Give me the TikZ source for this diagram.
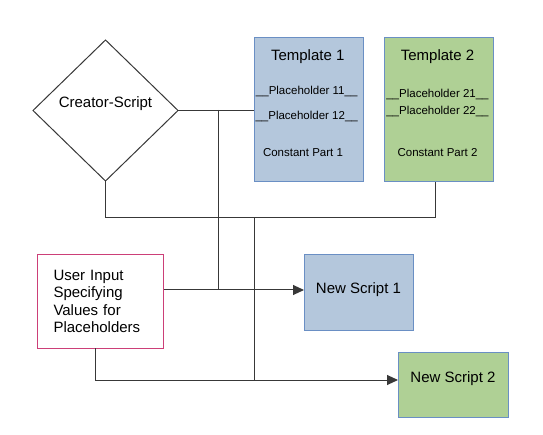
\documentclass[tikz,border=0pt]{standalone}
\usepackage{fontspec}
\setmainfont{Liberation Sans}
\usetikzlibrary{shapes.geometric,arrows.meta,calc}
\definecolor{bluefill}{HTML}{B4C7DC}
\definecolor{blueedge}{HTML}{6A8FC4}
\definecolor{greenfill}{HTML}{AFD095}
\definecolor{pinkedge}{HTML}{CC3F78}
\definecolor{linec}{HTML}{383838}
\begin{document}
\begin{tikzpicture}[x=1pt,y=-1pt,
  big/.style={font=\fontsize{15}{17.5}\selectfont},
  small/.style={font=\fontsize{11.5}{13}\selectfont},
  tbox/.style={draw=blueedge,line width=1pt,inner sep=0pt,anchor=north west},
  wire/.style={draw=linec,line width=1pt},
  arr/.style={wire,-{Triangle[length=11pt,width=10pt]}}]
\useasboundingbox (0,0) rectangle (543,435);
% diamond
\node[draw=linec,line width=1pt,diamond,minimum width=145pt,minimum height=141pt,inner sep=0pt,outer sep=0pt] (cs) at (105.5,110.5) {};
\node[big] (cst) at (105.5,104) {Creator-Script};
% templates
\node[tbox,fill=bluefill,minimum width=109pt,minimum height=144pt] (t1) at (254,37) {};
\node[tbox,fill=greenfill,minimum width=109pt,minimum height=144pt] (t2) at (384,37) {};
\node[big] (t1a) at (307.7,56.7) {Template 1};
\node[small] (t1b) at (306.7,91.7) {\_\_Placeholder 11\_\_};
\node[small] (t1c) at (306.7,116.7) {\_\_Placeholder 12\_\_};
\node[small] (t1d) at (303,152.3) {Constant Part 1};
\node[big] (t2a) at (437.5,56.7) {Template 2};
\node[small] (t2b) at (437.5,94) {\_\_Placeholder 21\_\_};
\node[small] (t2c) at (437.5,111.7) {\_\_Placeholder 22\_\_};
\node[small] (t2d) at (437.5,152.3) {Constant Part 2};
% user input
\node[draw=pinkedge,line width=1pt,fill=white,anchor=north west,minimum width=126pt,minimum height=94pt,inner xsep=16pt,inner ysep=0pt,text width=94pt,align=left,big] (ui) at (37,254) {User Input\\Specifying\\Values for\\Placeholders};
% new scripts
\node[tbox,fill=bluefill,minimum width=109pt,minimum height=76pt] (n1) at (304,254) {};
\node[big] (n1t) at (358.5,290) {New Script 1};
\node[tbox,fill=greenfill,minimum width=110pt,minimum height=65pt] (n2) at (398,352) {};
\node[big] (n2t) at (453,379) {New Script 2};
% wires
\coordinate (j1) at (218,110);
\coordinate (j2) at (218,290);
\coordinate (j3) at (254,218);
\coordinate (j4) at (254,380);
\coordinate (j5) at (435,218);
\coordinate (u1) at (95,348);
\coordinate (u2) at (95,380);
\coordinate (e2) at (398,380);
\draw[wire] (cs.east) -- (t1.west |- cs.east);
\draw[wire] (j1) -- (j2);
\draw[wire] (cs.south) |- (j5) -- (j5 |- t2.south);
\draw[wire] (j3) -- (j4);
\draw[arr] (ui.east |- j2) -- (n1.west |- j2);
\draw[arr] (u1) -- (u2) -- (e2);
\end{tikzpicture}
\end{document}
